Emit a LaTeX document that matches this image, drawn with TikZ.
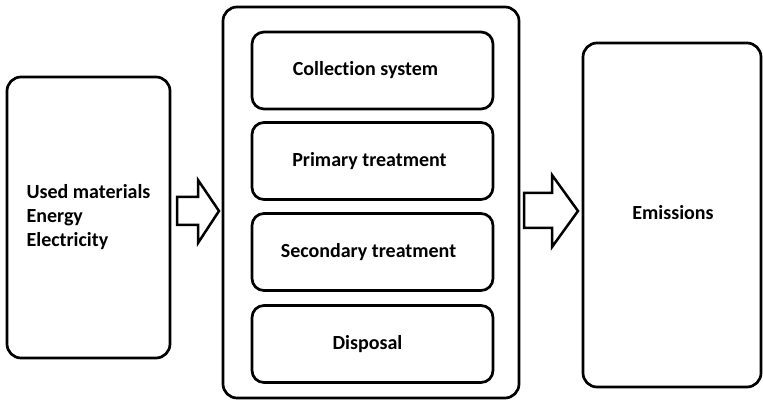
\documentclass[tikz,border=0pt]{standalone}
\usepackage{fontspec}
\setmainfont[Ligatures=NoCommon]{Carlito}
\usepackage{tikz}
\usetikzlibrary{positioning}

\tikzset{
  frame/.style={draw, line width=2.7pt, rounded corners=14pt, inner sep=0pt},
  stage/.style={draw, line width=2.7pt, rounded corners=12pt, minimum width=241pt, minimum height=77pt},
  label/.style={font=\bfseries\fontsize{20}{24}\selectfont},
  blockarrow/.style={draw, line width=2.5pt, line join=miter, fill=white}
}

\begin{document}
\begin{tikzpicture}[x=1pt, y=1pt]
  \useasboundingbox (0,0) rectangle (763,401);
  % outer boxes
  \node[frame, minimum width=163pt, minimum height=281pt, label, align=left] (inputs) at (88.5,183.5) {Used materials\\Energy\\Electricity};
  \node[frame, minimum width=296pt, minimum height=391pt] (plant) at (371,198.5) {};
  \node[frame, minimum width=178pt, minimum height=344pt] (emis) at (672,186) {};
  \node[label] (emistext) at (673,188) {Emissions};
  % treatment stages
  \node[stage] (collect) at (372.5,330.5) {};
  \node[stage] (primary) at (372.5,240) {};
  \node[stage] (second) at (372.5,149) {};
  \node[stage] (dispose) at (372.5,57) {};
  \node[label] at ([xshift=-7pt]collect.center) {Collection system};
  \node[label] at ([xshift=-3pt]primary.center) {Primary treatment};
  \node[label] at ([xshift=-4pt]second.center) {Secondary treatment};
  \node[label] at ([xshift=-5pt]dispose.center) {Disposal};
  % block arrows
  \draw[blockarrow] (177,176) -- (198,176) -- (198,158) -- (219,190) -- (198,221) -- (198,204) -- (177,204) -- cycle;
  \draw[blockarrow] (524,173) -- (552,173) -- (552,154) -- (578,190) -- (552,226) -- (552,208) -- (524,208) -- cycle;
\end{tikzpicture}
\end{document}
